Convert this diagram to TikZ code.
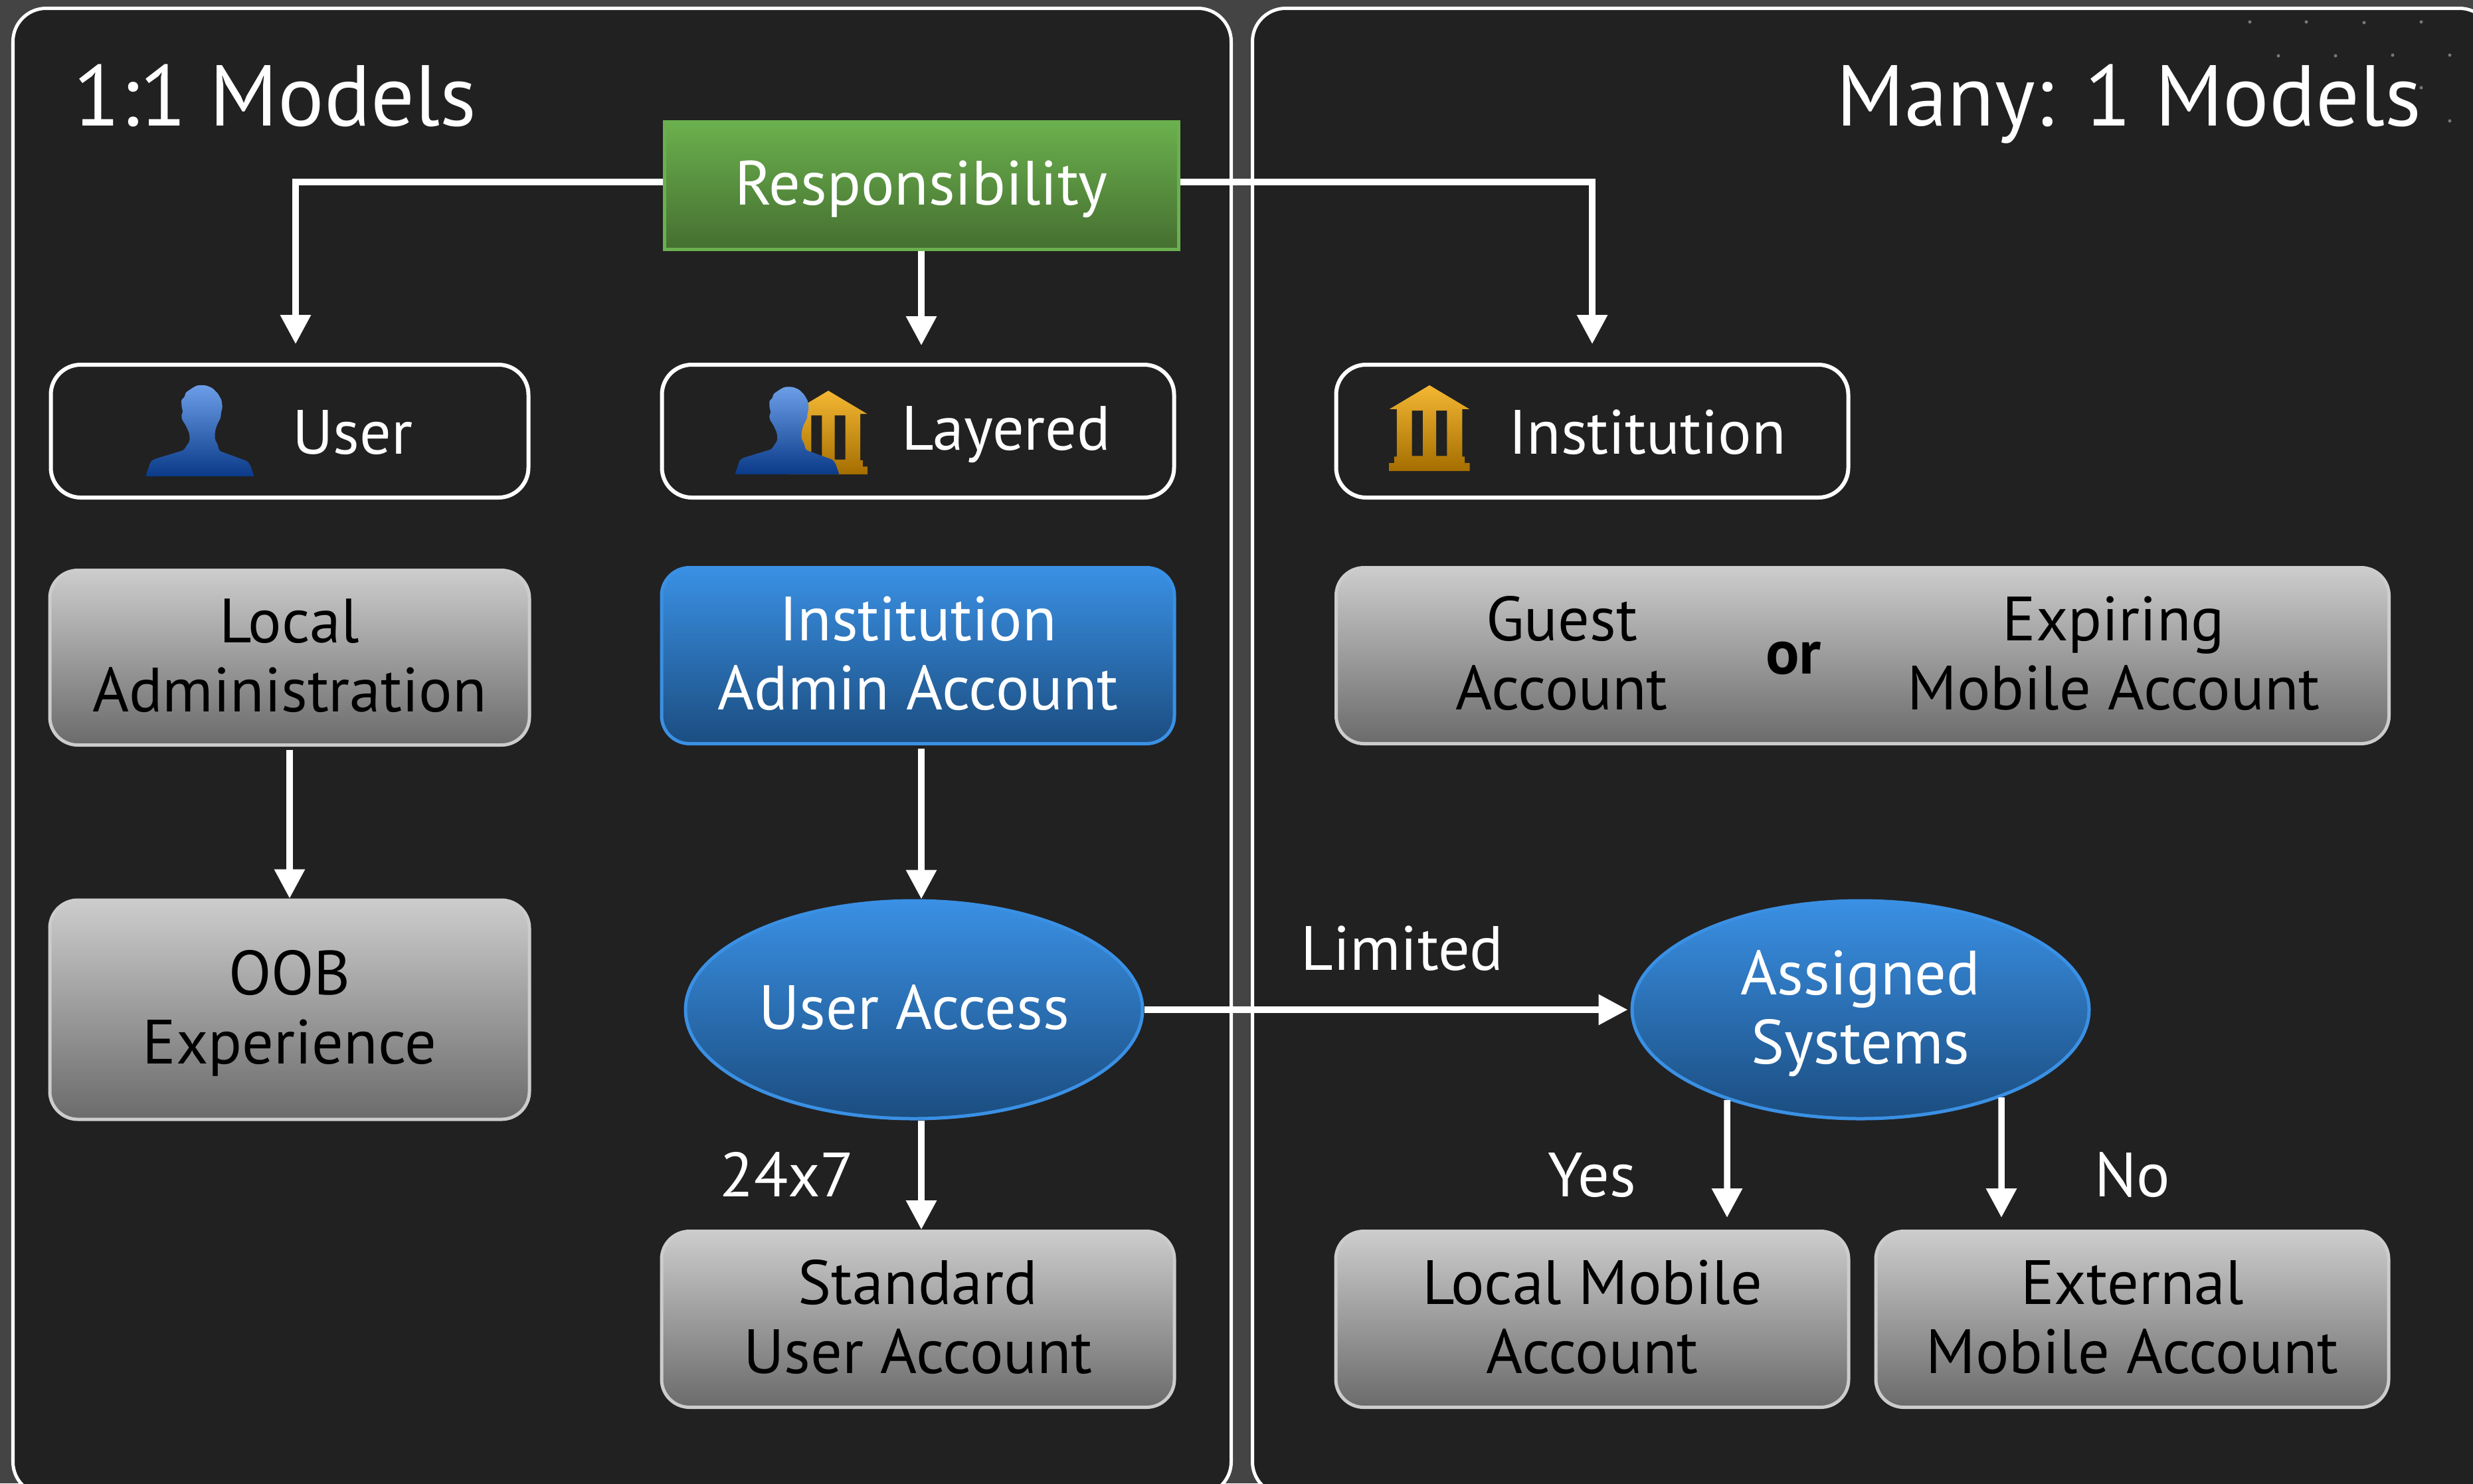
\documentclass[tikz,border=0pt]{standalone}
\usepackage{fontspec}
\setmainfont{PT Sans}
\usepackage{tikz}
\usetikzlibrary{arrows.meta,shapes.geometric,positioning}
\definecolor{pagegrey}{HTML}{444444}
\definecolor{paneldark}{HTML}{212121}
\definecolor{speck}{HTML}{787878}
\definecolor{greytop}{HTML}{CCCCCC}
\definecolor{greybot}{HTML}{6B6B6B}
\definecolor{bluetop}{HTML}{3A90E4}
\definecolor{bluebot}{HTML}{1B4D80}
\definecolor{greentop}{HTML}{6BB04E}
\definecolor{greenbot}{HTML}{456F30}
\definecolor{persontop}{HTML}{6C9EE8}
\definecolor{personbot}{HTML}{0A3A88}
\definecolor{banktop}{HTML}{F4B733}
\definecolor{bankbot}{HTML}{A46E00}
\newcommand\bodyfont{\fontsize{26.8}{29.7}\selectfont}
\newcommand\titlefont{\fontsize{37}{40}\selectfont}
\tikzstyle{arrow} = [white,line width=.095cm,-{Triangle[length=.44cm,width=.44cm]}]
\tikzstyle{evenlines} = [execute at begin node={\rule{0pt}{.88cm}}, execute at end node={\rule[-.30cm]{0pt}{.30cm}}]
\tikzstyle{twolines} = [execute at begin node={\rule{0pt}{1.93cm}}]
\tikzstyle{panel} = [rectangle, rounded corners=.5cm, draw=white, line width=.05cm, fill=paneldark, minimum height=22.38cm, inner sep=0]
\tikzstyle{headbox} = [rectangle, rounded corners=.45cm, draw=white, line width=.06cm, minimum width=7.71cm, minimum height=2.0cm, inner sep=0]
\tikzstyle{greybox} = [rectangle, rounded corners=.42cm, draw=greytop, line width=.05cm, top color=greytop, bottom color=greybot, minimum width=7.72cm, minimum height=2.65cm, inner sep=0, text=black, align=center, font=\bodyfont, evenlines]
\tikzstyle{bluebox} = [greybox, draw=bluetop, top color=bluetop, bottom color=bluebot, text=white]
\tikzstyle{greenbox} = [rectangle, draw=greentop, line width=.05cm, top color=greentop, bottom color=greenbot, minimum width=7.74cm, minimum height=1.92cm, inner sep=0, text=white, font=\bodyfont, evenlines]
\tikzstyle{blueoval} = [ellipse, draw=bluetop, line width=.05cm, top color=bluetop, bottom color=bluebot, minimum width=6.88cm, minimum height=3.28cm, inner sep=0, text=white, align=center, font=\bodyfont, evenlines]
\tikzstyle{whitetext} = [text=white, inner sep=0, align=center, font=\bodyfont, evenlines]
\tikzstyle{blacktext} = [text=black, inner sep=0, align=center, font=\bodyfont, evenlines]
\tikzstyle{titletext} = [text=white, inner sep=0, font=\titlefont]
\tikzset{
	personicon/.pic={
		\shade[top color=persontop, bottom color=personbot, x=.00333cm, y=.00333cm, rounded corners=.02cm]
		(-246,0) -- (-224,65) -- (-209,77) -- (-74,118) -- (-46,160) -- (-48,195) -- (-64,230) -- (-82,258) -- (-84,280) -- (-76,292) -- (-83,312) -- (-84,348) -- (-69,358) -- (-66,378) -- (-34,400) -- (-12,412) -- (26,412) -- (56,400) -- (81,375) -- (98,345) -- (102,310) -- (96,290) -- (94,265) -- (76,230) -- (68,200) -- (68,165) -- (78,150) -- (88,115) -- (216,68) -- (228,50) -- (246,0) -- cycle;
	},
	bankicon/.pic={
		\shade[top color=banktop, bottom color=bankbot, even odd rule, x=.00333cm, y=.00333cm]
		(0,388) -- (181,280) -- (148,280) -- (148,65) -- (160,65) -- (160,36) -- (182,36) -- (182,0) -- (-182,0) -- (-182,36) -- (-160,36) -- (-160,65) -- (-148,65) -- (-148,280) -- (-181,280) -- cycle
		(-79,273) rectangle (-30,68)
		(30,273) rectangle (79,68);
	},
}
\begin{document}
\begin{tikzpicture}[node distance=3.4cm]
\useasboundingbox (0,0) rectangle (37.23,-22.33);
\fill[pagegrey] (0,0) rectangle (37.23,-22.33);
%----------------------------------------------------------------------------
% Panels
\node (leftPanel) [panel, minimum width=18.34cm, anchor=north west] at (.17,-.10) {};
\node (rightPanel) [panel, minimum width=18.67cm, anchor=north west] at (18.83,-.10) {};
\foreach \px/\py in {33.87/.33,34.72/.33,35.59/.34,36.45/.33,34.30/.84,35.16/.84,36.02/.83,36.88/.83,36.45/1.32,36.88/1.82}
	\fill[speck] (\px,-\py) circle (.025);
\node (leftTitle) [titletext, anchor=base west] at (1.10,-1.89) {1:1 Models};
\node (rightTitle) [titletext, anchor=base east] at (36.46,-1.89) {Many: 1 Models};
%----------------------------------------------------------------------------
% Placement of flowchart nodes
\node (userBox) [headbox, minimum width=7.19cm] at (4.36,-6.49) {};
\node (layeredBox) [headbox, right of = userBox, node distance=9.46cm] {};
\node (instBox) [headbox, right of = layeredBox, node distance=10.15cm] {};
\node (respBox) [greenbox, above of = layeredBox, node distance=3.70cm, xshift=.05cm] {Responsibility};

\node (localAdmin) [greybox, twolines, below of = userBox, node distance=3.41cm, minimum width=7.22cm, minimum height=2.63cm] {Local\\Administration};
\node (oobBox) [greybox, twolines, below of = localAdmin, node distance=5.30cm, minimum width=7.22cm, minimum height=3.30cm] {OOB\\Experience};

\node (instAdmin) [bluebox, twolines, below of = layeredBox, node distance=3.38cm] {Institution\\Admin Account};
\node (userAccess) [blueoval, below of = instAdmin, node distance=5.33cm, xshift=-.06cm] {User Access};
\node (stdAccount) [greybox, twolines, below of = instAdmin, node distance=9.99cm] {Standard\\User Account};

\node (guestBox) [greybox, right of = instAdmin, node distance=14.22cm, minimum width=15.85cm] {};
\node (assigned) [blueoval, twolines, right of = userAccess, node distance=14.25cm] {Assigned\\Systems};
\node (localMobile) [greybox, twolines, right of = stdAccount, node distance=10.15cm] {Local Mobile\\Account};
\node (extMobile) [greybox, twolines, right of = localMobile, node distance=8.13cm] {External\\Mobile Account};

%----------------------------------------------------------------------------
% Texts beside the icons and in the wide box
\node (userText) [whitetext, right of = userBox, node distance=.95cm, yshift=-.05cm] {User};
\node (layeredText) [whitetext, right of = layeredBox, node distance=1.33cm, yshift=.01cm] {Layered};
\node (instText) [whitetext, right of = instBox, node distance=.83cm, yshift=-.05cm] {Institution};
\node (guestText) [blacktext, twolines, left of = guestBox, node distance=4.53cm] {Guest\\Account};
\node (orText) [blacktext, left of = guestBox, node distance=1.04cm, yshift=.02cm] {\bfseries or};
\node (expiringText) [blacktext, twolines, right of = guestBox, node distance=3.78cm] {Expiring\\Mobile Account};

% Icons
\pic at ([xshift=-1.35cm,yshift=-.68cm]userBox.center) {personicon};
\pic[scale=.975] at ([xshift=-1.35cm,yshift=-.65cm]layeredBox.center) {bankicon};
\pic[scale=.96] at ([xshift=-1.97cm,yshift=-.65cm]layeredBox.center) {personicon};
\pic at ([xshift=-2.45cm,yshift=-.60cm]instBox.center) {bankicon};

%----------------------------------------------------------------------------
% Lines
\draw [arrow, shorten >=.28cm] ([yshift=.05cm]respBox.west) -| ([xshift=.09cm]userBox.north);
\draw [arrow, shorten >=.26cm] (respBox.south) -- ([xshift=.05cm]layeredBox.north);
\draw [arrow, shorten >=.28cm] ([yshift=.05cm]respBox.east) -| (instBox.north);

\draw [arrow, shorten <=.05cm] (localAdmin.south) -- (oobBox.north);
\draw [arrow, shorten <=.05cm] ([xshift=.05cm]instAdmin.south) -- ([xshift=.11cm]userAccess.north);
\draw [arrow] ([xshift=.11cm]userAccess.south) -- ([xshift=.05cm]stdAccount.north);
\draw [arrow, shorten >=.04cm] (userAccess.east) -- (assigned.west);
\draw [arrow, shorten >=.18cm] ([xshift=-2.01cm,yshift=-1.36cm]assigned.center) -- ([xshift=2.03cm]localMobile.north);
\draw [arrow, shorten >=.18cm] ([xshift=2.12cm,yshift=-1.32cm]assigned.center) -- ([xshift=-1.97cm]extMobile.north);

%----------------------------------------------------------------------------
% Labels
\node (limitedLabel) [whitetext, above of = userAccess, node distance=.89cm, xshift=7.35cm] {Limited};
\node (fullLabel) [whitetext, above of = stdAccount, node distance=2.14cm, xshift=-1.97cm] {24x7};
\node (yesLabel) [whitetext, above of = localMobile, node distance=2.14cm] {Yes};
\node (noLabel) [whitetext, above of = extMobile, node distance=2.14cm] {No};
\end{tikzpicture}
\end{document}
